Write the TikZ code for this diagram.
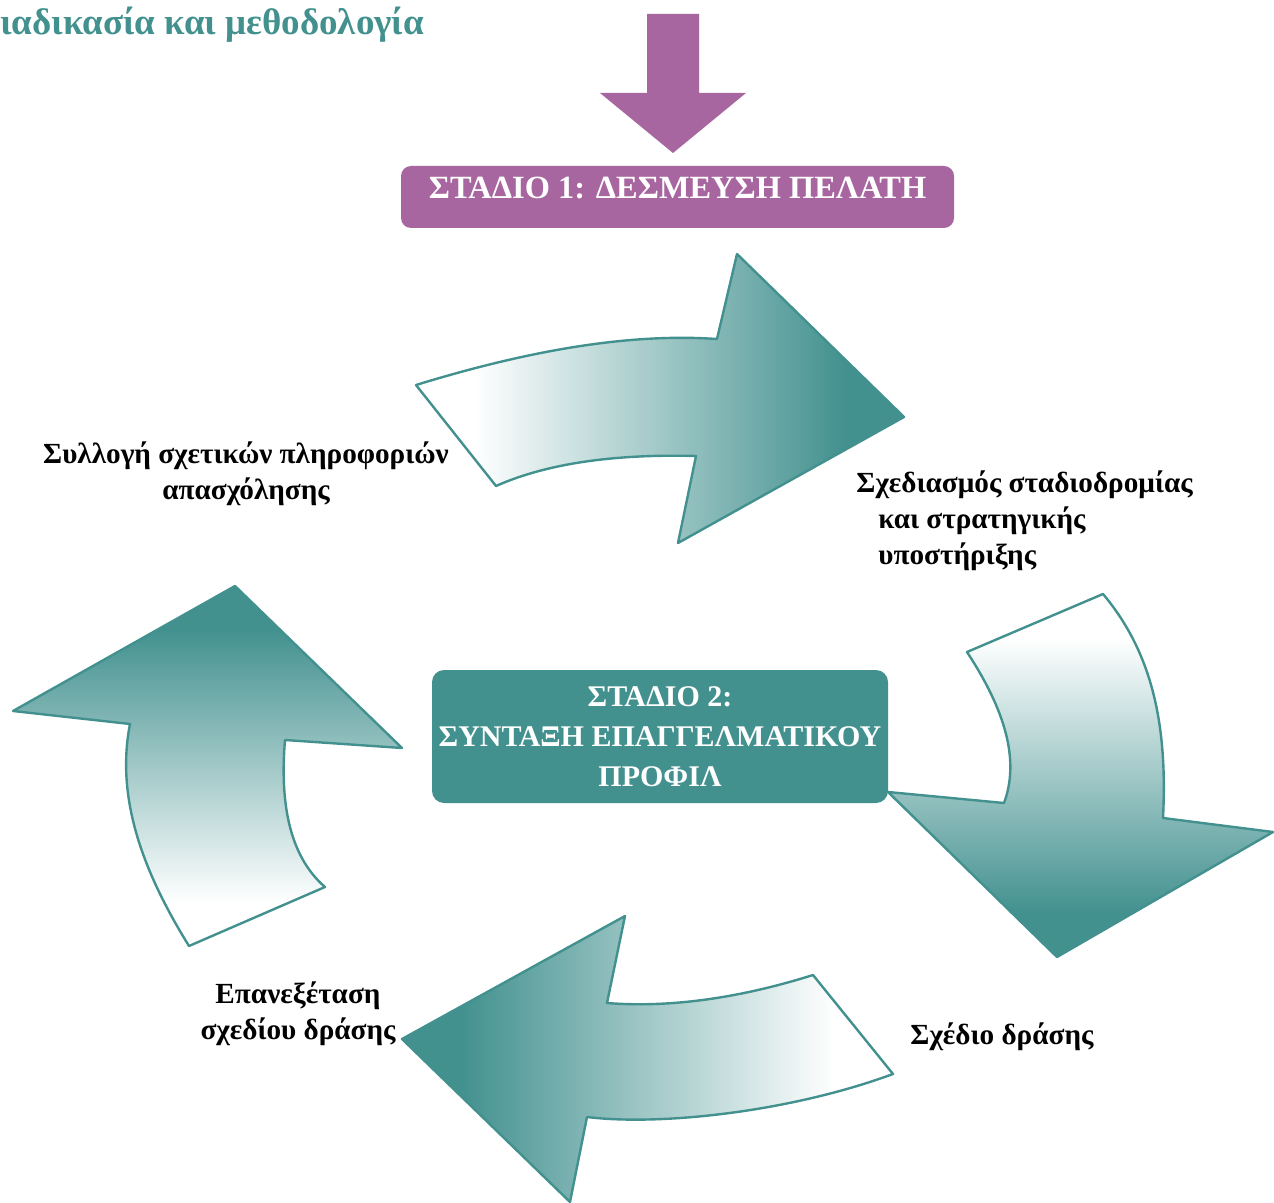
\documentclass[tikz,border=0pt]{standalone}
\usepackage{fontspec}
\setmainfont{Liberation Serif}
\usetikzlibrary{positioning}
\definecolor{stageteal}{HTML}{42918F}
\definecolor{stagepurple}{HTML}{A866A0}
\pgfdeclarehorizontalshading{leafshade}{100bp}{color(0bp)=(white); color(31bp)=(white); color(69bp)=(stageteal); color(100bp)=(stageteal)}

\begin{document}
\begin{tikzpicture}[
		x=0.5pt, y=-0.5pt,
		stagebox/.style={inner sep=0pt, text=white, align=center, font=\bfseries\fontsize{16.2}{20}\selectfont},
		leaf/.style={draw=stageteal, line width=1.2pt, line join=round, shading=leafshade},
		steplabel/.style={inner sep=0pt, font=\bfseries\fontsize{14.6}{18}\selectfont}
		]
		\useasboundingbox (0,0) rectangle (1274,1203);
		
		% --------------------------------------------------
		% Heading
		% --------------------------------------------------
		\node[anchor=base west, inner sep=0pt, text=stageteal, font=\bfseries\fontsize{18.5}{22}\selectfont] (heading) at (0,35) {ιαδικασία και μεθοδολογία};
		
		% entry arrow
		\fill[stagepurple] (647,14) -- (699,14) -- (699,93) -- (746,93) -- (673,153) -- (600,93) -- (647,93) -- cycle;
		
		% --------------------------------------------------
		% Cycle of curved arrows
		% --------------------------------------------------
		% top: left to right
		\path[leaf, shading angle=0] (416,385) .. controls (530,350) and (630,333) .. (717,339)
		-- (737,254) -- (904,417) -- (678,543) -- (696,456)
		.. controls (620,454) and (550,462) .. (496,486) -- cycle;
		
		% right: downwards
		\path[leaf, shading angle=270] (967,652) -- (1103,594)
		.. controls (1150,650) and (1168,720) .. (1163,818)
		-- (1273,832) -- (1057,957) -- (888,792) -- (1004,803)
		.. controls (1020,760) and (1005,710) .. (967,652) -- cycle;
		
		% bottom: right to left
		\path[leaf, shading angle=180] (813,975) .. controls (740,998) and (670,1008) .. (607,1003)
		-- (625,916) -- (402,1039) -- (570,1202) -- (587,1117)
		.. controls (660,1126) and (790,1112) .. (893,1074) -- cycle;
		
		% left: upwards
		\path[leaf, shading angle=90] (235,586) -- (402,748) -- (285,740)
		.. controls (280,800) and (288,855) .. (325,887)
		-- (189,946) .. controls (145,875) and (115,800) .. (130,724)
		-- (13,711) -- cycle;
		
		% --------------------------------------------------
		% Stages
		% --------------------------------------------------
		\node[stagebox, fill=stagepurple, rounded corners=5pt, minimum width=276.5pt, minimum height=31pt, text height=11pt, text depth=9pt] (stageone) at (677.5,197) {ΣΤΑΔΙΟ 1: ΔΕΣΜΕΥΣΗ ΠΕΛΑΤΗ};
		
		\node[stagebox, fill=stageteal, rounded corners=6pt, minimum width=228pt, minimum height=66.5pt, font=\bfseries\fontsize{15}{20}\selectfont] (stagetwo) at (660,736.5) {ΣΤΑΔΙΟ 2:\\ΣΥΝΤΑΞΗ ΕΠΑΓΓΕΛΜΑΤΙΚΟΥ\\ΠΡΟΦΙΛ};
		
		% --------------------------------------------------
		% Step labels
		% --------------------------------------------------
		\node[steplabel, align=center] (collect) at (246,474) {Συλλογή σχετικών πληροφοριών\\απασχόλησης};
		\node[steplabel, align=left, anchor=west] (career) at (856,521) {Σχεδιασμός σταδιοδρομίας\\\hspace*{11pt}και στρατηγικής\\\hspace*{11pt}υποστήριξης};
		\node[steplabel, anchor=west] (plan) at (910,1037) {Σχέδιο δράσης};
		\node[steplabel, align=center] (review) at (298,1014) {Επανεξέταση\\σχεδίου δράσης};
		
	\end{tikzpicture}
\end{document}
